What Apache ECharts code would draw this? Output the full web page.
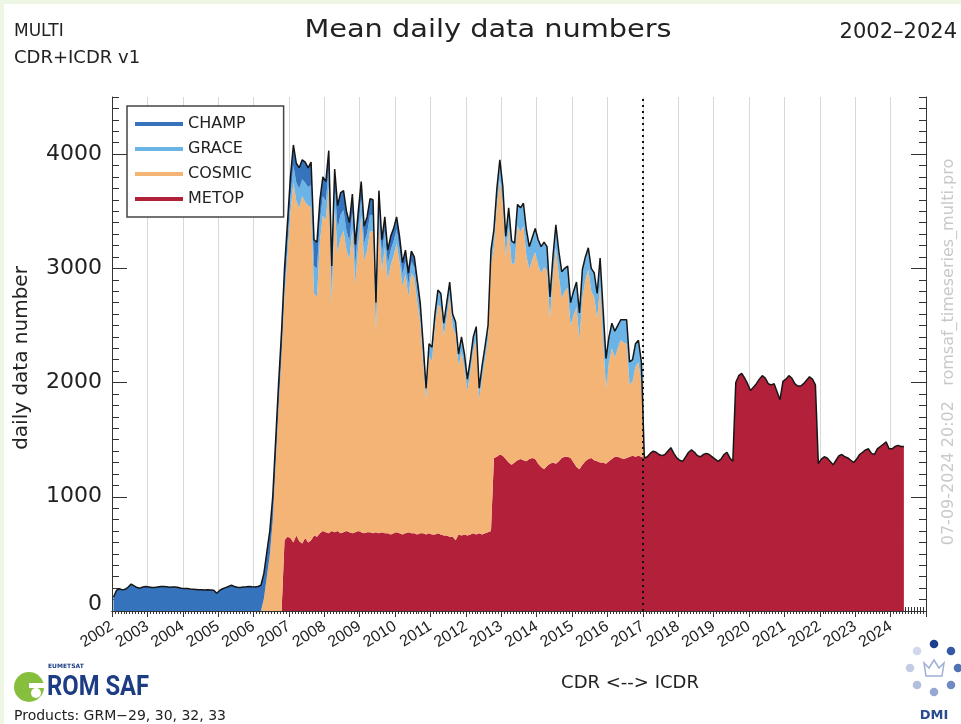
<!DOCTYPE html>
<html>
<head>
<meta charset="utf-8">
<script src="https://cdn.jsdelivr.net/npm/echarts@6.0.0/dist/echarts.min.js"></script>
<style>
  html, body { margin: 0; padding: 0; background: #ffffff; }
  #chart { position: absolute; left: 0; top: 0; width: 961px; height: 724px; }
</style>
</head>
<body>
<div id="chart"></div>
<script>
// ---------------- DATA (monthly means) ----------------
const START_YEAR = 2002;
const yearLabels = [2002, 2003, 2004, 2005, 2006, 2007, 2008, 2009, 2010, 2011, 2012,
                    2013, 2014, 2015, 2016, 2017, 2018, 2019, 2020, 2021, 2022, 2023, 2024];
const yTickLabels = [0, 1000, 2000, 3000, 4000];
const cdrBoundary = 2017;

// CHAMP: 2002-01 .. 2010-10
const champStart = '2002-01';
const champ = [
  120,180,195,185,190,210,235,220,205,200, 210,215,210,205,205,210,215,215,212,208,
  210,210,205,200,196,198,192,190,188,186, 185,184,186,184,182,155,180,195,205,215,
  225,215,208,205,210,212,215,212,210,215,
  225,220,215,210,210,200,200,200,190,190, 180,180,170,180,170,180,170,200,230,230,
  180,170,170,160,180,160,200,190,170,170, 160,160,170,150,150,150,140,140,140,140,
  130,130,120,120,120,110,110,110,100,100, 100,90,90,80,70,60
];

// GRACE: 2006-11 .. 2016-12
const graceStart = '2006-11';
const grace = [
  60,100,
  130,150,160,170,150,170,160,200,240,250, 180,170,160,150,160,170,220,200,180,170,
  160,150,170,160,150,150,150,140,140,120, 130,140,150,140,130,130,120,120,110,110,
  110,100,100,110,100,110,100,110,120,120, 130,120,110,130,120,110,110,100,130,120,
  100,110,120,110,100,110,110,120,140,150, 160,170,160,180,170,200,180,190,210,200,
  230,200,190,210,220,230,220,210,190,180, 200,220,230,200,190,200,210,220,230,250,
  200,190,200,210,220,250,280,260,220,220, 230,200,180,200,210,200,190,200,190,200
];

// COSMIC: 2006-04 .. 2016-12
const cosmicStart = '2006-04';
const cosmic = [
  110,300,490,790,1300,1800,2250,2130,2460,
  2850,3150,2930,2920,3040,2940,2950,2910,2120,2100,
  2560,2760,2740,3040,1980,2850,2430,2590,2640,2460,
  2390,2660,2180,2490,2770,2390,2470,2640,2640,1750,
  2740,2290,2500,2220,2360,2430,2530,2370,2170,2270,
  2060,2280,2230,2040,1850,1490,1180,1550,1520,1810,
  2000,1990,1750,1910,2110,1840,1800,1480,1610,1460,
  1270,1420,1600,1710,1170,1370,1530,1690,2320,1850,
  2190,2410,2200,1770,2060,1760,1740,2050,1990,2050,
  1800,1660,1740,1810,1740,1700,1770,1710,1270,1620,
  1890,1620,1400,1450,1480,1160,1290,1400,1140,1460,
  1590,1660,1460,1430,1250,1540,1070,660,870,970,
  870,950,1030,1020,1000,630,650,790,820,630
];

// METOP: 2006-11 .. 2024-05
const metopStart = '2006-11';
const metop = [
  620,650,
  640,600,660,610,590,640,600,620,660,650, 680,700,690,680,700,690,700,680,690,700,
  690,680,690,700,690,680,690,690,680,690, 680,690,680,680,670,680,690,680,670,680,
  690,680,680,670,680,680,670,680,670,670, 680,670,660,660,650,650,620,670,660,670,
  660,670,680,670,680,670,680,690,700,1340, 1350,1370,1360,1330,1300,1280,1300,1320,1330,1320,
  1310,1330,1340,1330,1290,1260,1240,1270,1290,1300, 1290,1310,1340,1350,1350,1340,1300,1260,1240,1280,
  1310,1330,1340,1320,1310,1300,1300,1290,1310,1330, 1350,1350,1340,1330,1340,1350,1360,1350,1360,1350,
  1340,1350,1380,1400,1390,1370,1360,1370,1400,1430, 1380,1340,1320,1310,1350,1390,1410,1390,1360,1350,
  1370,1380,1370,1350,1330,1310,1330,1370,1390,1340, 1310,2000,2060,2080,2040,1990,1930,1960,1990,2030,
  2060,2040,1990,1980,1990,1920,1850,2010,2030,2060, 2040,1990,1970,1970,1990,2020,2050,2030,1980,1290,
  1330,1350,1340,1310,1280,1320,1360,1370,1350,1340, 1320,1300,1330,1370,1390,1410,1420,1380,1370,1420,
  1440,1460,1480,1420,1420,1440,1450,1440,1440
];

// ---------------- build aligned monthly series ----------------
function monthIndex(s) { const p = s.split('-').map(Number); return (p[0] - START_YEAR) * 12 + (p[1] - 1); }
const N = Math.max(monthIndex(champStart) + champ.length, monthIndex(graceStart) + grace.length,
                   monthIndex(cosmicStart) + cosmic.length, monthIndex(metopStart) + metop.length);
function full(start, arr) {
  const out = new Array(N).fill(0);
  const k = monthIndex(start);
  arr.forEach((v, j) => { out[k + j] = v; });
  return out;
}
const xs = Array.from({ length: N }, (_, i) => START_YEAR + (i + 0.5) / 12);
const S = {
  CHAMP: full(champStart, champ),
  GRACE: full(graceStart, grace),
  COSMIC: full(cosmicStart, cosmic),
  METOP: full(metopStart, metop)
};
const total = xs.map((x, i) => S.CHAMP[i] + S.GRACE[i] + S.COSMIC[i] + S.METOP[i]);

const colors = { CHAMP: '#3573bd', GRACE: '#6db4e6', COSMIC: '#f3b475', METOP: '#b3203a' };
const FONT = "'DejaVu Sans', sans-serif";
const INK = '#222222';

// data stored as [value, x] so that the stacked dimension is the value (first numeric dim)
function areaSeries(name) {
  return {
    name, type: 'line', stack: 'all', color: colors[name],
    data: xs.map((x, i) => [S[name][i], x]),
    encode: { x: 1, y: 0 },
    symbol: 'none', showSymbol: false, silent: true,
    lineStyle: { width: 0, opacity: 0 },
    itemStyle: { color: colors[name] },
    areaStyle: { color: colors[name], opacity: 1 },
    z: 2
  };
}

const minorY = [];
for (let v = 0; v <= 4500; v += 100) if (v % 1000 !== 0) minorY.push(v);

const tickCol = '#333333';
function yAx(pos, major) {
  return {
    type: 'value', position: pos, min: 0, max: 4500,
    axisLine: { show: major, lineStyle: { color: tickCol, width: 1 } },
    axisTick: { show: true, inside: true, length: major ? 15 : 7,
                customValues: major ? yTickLabels : minorY, lineStyle: { color: tickCol, width: 1 } },
    minorTick: { show: false },
    axisLabel: (major && pos === 'left') ? {
      show: true, customValues: yTickLabels, fontFamily: FONT, fontSize: 22, color: INK, margin: 10,
      formatter: v => (v === 0 ? '{z|0}' : String(v)),
      rich: { z: { fontFamily: FONT, fontSize: 22, color: INK, padding: [0, 0, 14, 0] } }
    } : { show: false },
    splitLine: { show: false }
  };
}

const chart = echarts.init(document.getElementById('chart'), null, { renderer: 'canvas' });

// DMI dots
const dmiC = [934, 668], dmiR = 24;
const dmiCols = ['#1d3f8e', '#3559a6', '#5172b5', '#7189c2', '#96a7d1', '#b2bedd', '#c3cce3', '#d1d8ea'];
const dmiDots = dmiCols.map((c, k) => {
  const a = k * Math.PI / 4;
  return { type: 'circle', shape: { cx: dmiC[0] + dmiR * Math.sin(a), cy: dmiC[1] - dmiR * Math.cos(a), r: 4.3 },
           style: { fill: c }, silent: true };
});

chart.setOption({
  animation: false,
  backgroundColor: '#ffffff',
  grid: { left: 112, right: 35, top: 97, bottom: 113, containLabel: false },
  legend: {
    orient: 'vertical', left: 127, top: 106,
    data: ['CHAMP', 'GRACE', 'COSMIC', 'METOP'].map(n => ({ name: n, icon: 'rect', itemStyle: { color: colors[n] } })),
    itemWidth: 48, itemHeight: 4, itemGap: 9, itemTextGap: 10,
    textStyle: { fontFamily: FONT, fontSize: 16, color: INK, lineHeight: 16 },
    backgroundColor: '#ffffff', borderColor: '#444444', borderWidth: 1.5,
    padding: [10, 32, 10, 8], selectedMode: false
  },
  xAxis: [
    {
      type: 'value', position: 'bottom', min: 2002, max: 2025, interval: 1,
      axisLine: { show: true, lineStyle: { color: tickCol, width: 1 } },
      axisTick: { show: true, inside: true, length: 8, lineStyle: { color: tickCol } },
      minorTick: { show: true, splitNumber: 12, length: 4, lineStyle: { color: tickCol } },
      axisLabel: { show: true, customValues: yearLabels, rotate: 32, fontFamily: "'Liberation Sans', Arial, sans-serif",
                   fontSize: 16, color: INK, margin: 14, formatter: v => String(v) },
      splitLine: { show: true, lineStyle: { color: '#d8d8d8', width: 1 } }
    },
    {
      type: 'value', position: 'top', min: 2002, max: 2025, interval: 1,
      axisLine: { show: true, lineStyle: { color: tickCol, width: 1 } },
      axisTick: { show: true, inside: true, length: 6, lineStyle: { color: tickCol } },
      minorTick: { show: true, splitNumber: 12, length: 3, lineStyle: { color: tickCol } },
      axisLabel: { show: false }, splitLine: { show: false }
    }
  ],
  yAxis: [yAx('left', true), yAx('left', false), yAx('right', true), yAx('right', false)],
  series: [
    areaSeries('METOP'), areaSeries('COSMIC'), areaSeries('GRACE'), areaSeries('CHAMP'),
    {
      name: 'total', type: 'line', data: xs.map((x, i) => [x, total[i]]),
      symbol: 'none', showSymbol: false, silent: true, z: 3,
      lineStyle: { color: '#161616', width: 1.5 }, itemStyle: { color: '#161616' },
      markLine: {
        silent: true, symbol: ['none', 'none'], label: { show: false },
        lineStyle: { type: [2, 4], color: '#111111', width: 2 },
        data: [{ xAxis: cdrBoundary }]
      }
    }
  ],
  graphic: [
    { type: 'rect', shape: { x: 0, y: 0, width: 961, height: 4 }, style: { fill: '#edf5e3' }, silent: true },
    { type: 'rect', shape: { x: 0, y: 0, width: 4, height: 724 }, style: { fill: '#edf5e3' }, silent: true },
    { type: 'text', x: 14, y: 32, silent: true,
      style: { text: 'MULTI', fontFamily: FONT, fontSize: 17, fill: INK, align: 'left', verticalAlign: 'middle' } },
    { type: 'text', x: 14, y: 58, silent: true,
      style: { text: 'CDR+ICDR v1', fontFamily: FONT, fontSize: 18, fill: INK, align: 'left', verticalAlign: 'middle' } },
    { type: 'text', x: 488, y: 31, scaleX: 1.2, silent: true,
      style: { text: 'Mean daily data numbers', fontFamily: FONT, fontSize: 24, fill: INK, align: 'center', verticalAlign: 'middle' } },
    { type: 'text', x: 957, y: 33, silent: true,
      style: { text: '2002\u20132024', fontFamily: FONT, fontSize: 21, fill: INK, align: 'right', verticalAlign: 'middle' } },
    { type: 'text', x: 22, y: 358, rotation: Math.PI / 2, silent: true,
      style: { text: 'daily data number', fontFamily: FONT, fontSize: 20, fill: INK, align: 'center', verticalAlign: 'middle' } },
    { type: 'text', x: 630, y: 683, silent: true,
      style: { text: 'CDR <--> ICDR', fontFamily: FONT, fontSize: 18, fill: INK, align: 'center', verticalAlign: 'middle' } },
    { type: 'text', x: 14, y: 716, silent: true,
      style: { text: 'Products: GRM\u221229, 30, 32, 33', fontFamily: FONT, fontSize: 14, fill: INK, align: 'left', verticalAlign: 'middle' } },
    { type: 'text', x: 949, y: 352, rotation: Math.PI / 2, silent: true,
      style: { text: '07-09-2024 20:02   romsaf_timeseries_multi.pro', fontFamily: FONT, fontSize: 16, fill: '#c9c9c9', align: 'center', verticalAlign: 'middle' } },
    // ROM SAF logo
    { type: 'circle', shape: { cx: 29, cy: 687, r: 15 }, style: { fill: '#86bf3e' }, silent: true },
    { type: 'rect', shape: { x: 29, y: 683, width: 18, height: 5 }, style: { fill: '#ffffff' }, silent: true },
    { type: 'circle', shape: { cx: 36, cy: 693, r: 5 }, style: { fill: '#ffffff' }, silent: true },
    { type: 'text', x: 48, y: 666, silent: true,
      style: { text: 'EUMETSAT', fontFamily: FONT, fontSize: 6, fontWeight: 'bold', fill: '#1c3c84', align: 'left', verticalAlign: 'middle' } },
    { type: 'text', x: 47, y: 688, scaleX: 0.85, silent: true,
      style: { text: 'ROM SAF', fontFamily: 'Roboto, sans-serif', fontSize: 28, fontWeight: 'bold', fill: '#1c3c84', align: 'left', verticalAlign: 'middle' } },
    // DMI logo
    ...dmiDots,
    { type: 'polygon', shape: { points: [[926, 676], [942, 676], [944, 663], [939, 668], [934, 660], [929, 668], [924, 663]] },
      style: { fill: 'none', stroke: '#9fb0d6', lineWidth: 1.5 }, silent: true },
    { type: 'text', x: 934, y: 716, silent: true,
      style: { text: 'DMI', fontFamily: FONT, fontSize: 13, fontWeight: 'bold', fill: '#2b4a8f', align: 'center', verticalAlign: 'middle' } }
  ]
});
</script>
</body>
</html>
